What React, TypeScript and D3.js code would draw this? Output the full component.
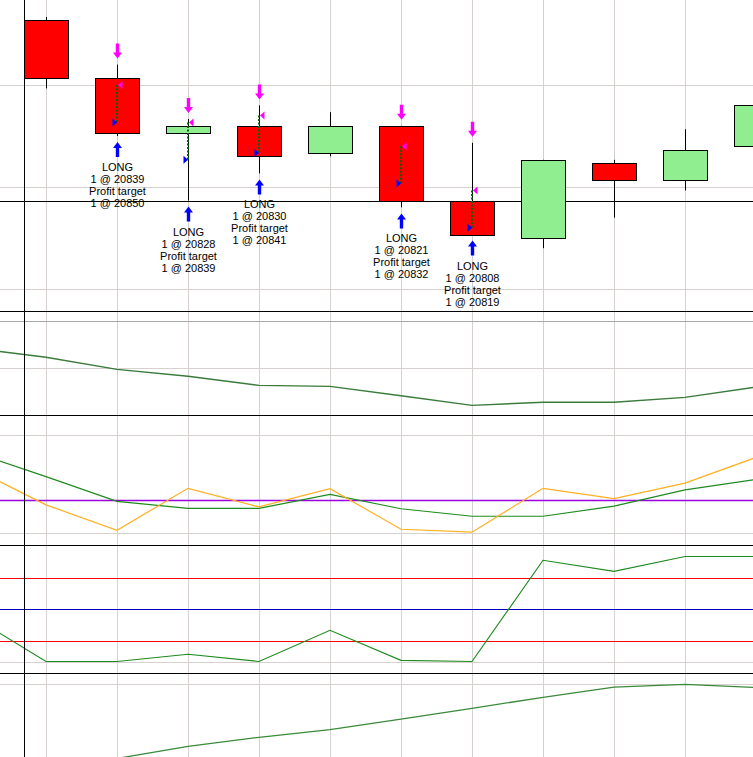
import React from "react";
import * as d3 from "d3";

// ---- data ----
const candleIndex = [0, 1, 2, 3, 4, 5, 6, 7, 8, 9, 10];
const openP = [20869, 20852, 20836, 20838, 20830, 20838, 20816, 20805, 20827, 20822, 20832];
const highP = [20870, 20856, 20840, 20844, 20842, 20838, 20833, 20828, 20828, 20837, 20846];
const lowP = [20849, 20835, 20816, 20824, 20829, 20814, 20806, 20802, 20811, 20819, 20831];
const closeP = [20852, 20836, 20838, 20829, 20838, 20816, 20806, 20828, 20822, 20831, 20844];
const priceGrid = [20850, 20820, 20790];
const priceLevel = 20816;

// trades: candle index, entry, target
const tradeBars = [1, 2, 3, 5, 6];
const tradeEntry = [20839, 20828, 20830, 20821, 20808];
const tradeTarget = [20850, 20839, 20841, 20832, 20819];

// indicator series, index -1 .. 10
const lineIndex = [-1, 0, 1, 2, 3, 4, 5, 6, 7, 8, 9, 10];
const maValues = [20848.3, 20844.6, 20839.4, 20836.5, 20832.6, 20832.2, 20828.2, 20824.1, 20825.4, 20825.4, 20827.5, 20831.9];
const maGrid = [20860, 20840];
const oscFast = [9.5, -1.5, -9.3, 3.6, -2.1, 3.5, -9.0, -9.9, 3.6, 0.4, 5.2, 13.1];
const oscSlow = [14.6, 7.2, -0.4, -2.6, -2.6, 1.75, -2.7, -5.0, -5.0, -1.9, 3.1, 6.3];
const oscGrid = [20, -10];
const oscZero = 0;
const stochValues = [41.3, 0, 0, 6.9, 0, 29.7, 1.1, 0, 96.4, 85.9, 100, 100];
const stochLevelsRed = [80, 20];
const stochMid = 50;
const stochGrid = [0];
const trendValues = [-25, -25, -6, 11.4, 24.3, 35.1, 50.4, 65.7, 81.4, 96.1, 100, 95.4];
const trendGrid = [100];

const W = 753;
const H = 757;

export default function App() {
  const x = d3.scaleLinear().domain([0, 10]).range([46, 756]);
  const yP = d3.scaleLinear().domain([20850, 20820]).range([85, 187]);
  const yMA = d3.scaleLinear().domain([20860, 20840]).range([321, 368]);
  const yOsc = d3.scaleLinear().domain([0, 20]).range([500, 435]);
  const ySt = d3.scaleLinear().domain([50, 100]).range([609, 556.5]);
  const yTr = d3.scaleLinear().domain([100, 0]).range([684.3, 754.3]);

  const gridColor = "#d6d0cf";
  const bodyHalf = 22;

  const mkLine = (vals: number[], ys: d3.ScaleLinear<number, number>) =>
    d3
      .line<number>()
      .x((_, i) => x(lineIndex[i]))
      .y((v) => ys(v))(vals) || "";

  const upArrow = (cx: number, top: number, color: string) => {
    const h = 15;
    const headH = 6;
    const hw = 4.5;
    const sw = 1.7;
    const p = [
      [cx, top],
      [cx + hw, top + headH],
      [cx + sw, top + headH],
      [cx + sw, top + h],
      [cx - sw, top + h],
      [cx - sw, top + headH],
      [cx - hw, top + headH],
    ];
    return <polygon points={p.map((q) => q.join(",")).join(" ")} fill={color} />;
  };
  const downArrow = (cx: number, bottom: number, color: string) => {
    const h = 15;
    const headH = 6;
    const hw = 4.5;
    const sw = 1.7;
    const p = [
      [cx, bottom],
      [cx + hw, bottom - headH],
      [cx + sw, bottom - headH],
      [cx + sw, bottom - h],
      [cx - sw, bottom - h],
      [cx - sw, bottom - headH],
      [cx - hw, bottom - headH],
    ];
    return <polygon points={p.map((q) => q.join(",")).join(" ")} fill={color} />;
  };

  const hline = (y: number, color: string, key: string, w = 1) => (
    <line key={key} x1={0} x2={W} y1={Math.round(y) + 0.5} y2={Math.round(y) + 0.5} stroke={color} strokeWidth={w} />
  );

  return (
    <svg
      width={W}
      height={H}
      style={{ position: "absolute", left: 0, top: 0, background: "#fff" }}
      fontFamily="Liberation Sans, Arial, sans-serif"
    >
      <rect x={0} y={0} width={W} height={H} fill="#fff" />
      {/* vertical grid */}
      {candleIndex.map((i) => (
        <line key={"vg" + i} x1={Math.round(x(i)) + 0.5} x2={Math.round(x(i)) + 0.5} y1={0} y2={H} stroke={gridColor} strokeWidth={1} />
      ))}
      {/* horizontal grids */}
      {priceGrid.map((v, i) => hline(yP(v), gridColor, "pg" + i))}
      {maGrid.map((v, i) => hline(yMA(v), i === 0 ? "#a8a8a8" : gridColor, "mg" + i))}
      {oscGrid.map((v, i) => hline(yOsc(v), gridColor, "og" + i))}
      {stochGrid.map((v, i) => hline(ySt(v), gridColor, "sg" + i))}
      {trendGrid.map((v, i) => hline(yTr(v), gridColor, "tg" + i))}

      {/* price level line */}
      {hline(yP(priceLevel), "#000", "pl")}

      {/* candles */}
      {candleIndex.map((i) => {
        const cx = Math.round(x(i)) + 0.5;
        const up = closeP[i] >= openP[i];
        const top = yP(Math.max(openP[i], closeP[i]));
        const bot = yP(Math.min(openP[i], closeP[i]));
        return (
          <g key={"c" + i}>
            <line x1={cx} x2={cx} y1={yP(highP[i])} y2={yP(lowP[i])} stroke="#000" strokeWidth={1} />
            <rect
              x={Math.round(x(i)) - bodyHalf + 0.5}
              y={Math.round(top) + 0.5}
              width={bodyHalf * 2}
              height={Math.max(1, Math.round(bot) - Math.round(top))}
              fill={up ? "#90ee90" : "#ff0000"}
              stroke="#000"
              strokeWidth={1}
            />
          </g>
        );
      })}

      {/* trades */}
      {tradeBars.map((b, k) => {
        const cx = Math.round(x(b)) + 0.5;
        const ye = yP(tradeEntry[k]);
        const yt = yP(tradeTarget[k]);
        const arrowTop = yP(lowP[b]) + 6;
        const textY = arrowTop + 15 + 10;
        const lines = ["LONG", `1 @ ${tradeEntry[k]}`, "Profit target", `1 @ ${tradeTarget[k]}`];
        return (
          <g key={"t" + k}>
            <line x1={cx - 0.5} x2={cx - 0.5} y1={yt} y2={ye} stroke="#006400" strokeWidth={2} strokeDasharray="2,1.5" />
            <polygon points={`${cx - 5},${ye - 4} ${cx - 0.5},${ye} ${cx - 5},${ye + 4}`} fill="#0000ff" />
            <polygon points={`${cx + 5},${yt - 4} ${cx + 0.5},${yt} ${cx + 5},${yt + 4}`} fill="#ff00ff" />
            {downArrow(cx, yP(highP[b]) - 6, "#ff00ff")}
            {upArrow(cx, arrowTop, "#0000ff")}
            {lines.map((t, j) => (
              <text key={j} x={cx} y={textY + j * 12 + 4} textAnchor="middle" fontSize={11} fill="#000">
                {t}
              </text>
            ))}
          </g>
        );
      })}

      {/* panel 2: moving average */}
      <path d={mkLine(maValues, yMA)} fill="none" stroke="#3a7a3a" strokeWidth={1.4} />

      {/* panel 3: oscillator */}
      {hline(yOsc(oscZero), "#9b00e0", "oz", 1.3)}
      <path d={mkLine(oscSlow, yOsc)} fill="none" stroke="#1f8a1f" strokeWidth={1.2} />
      <path d={mkLine(oscFast, yOsc)} fill="none" stroke="#ffb020" strokeWidth={1.2} />

      {/* panel 4: stochastic */}
      {stochLevelsRed.map((v, i) => hline(ySt(v), "#ff0000", "sr" + i, 1.2))}
      {hline(ySt(stochMid), "#0000c0", "sm", 1.2)}
      <path d={mkLine(stochValues, ySt)} fill="none" stroke="#1f8a1f" strokeWidth={1.2} />

      {/* panel 5: trend */}
      <path d={mkLine(trendValues, yTr)} fill="none" stroke="#3a8a3a" strokeWidth={1.3} />

      {/* panel separators */}
      {hline(311, "#000", "s1")}
      {hline(415, "#000", "s2")}
      {hline(545, "#000", "s3")}
      {hline(673, "#000", "s4")}
      {/* left axis line */}
      <line x1={24.5} x2={24.5} y1={0} y2={H} stroke="#000" strokeWidth={1} />
    </svg>
  );
}
